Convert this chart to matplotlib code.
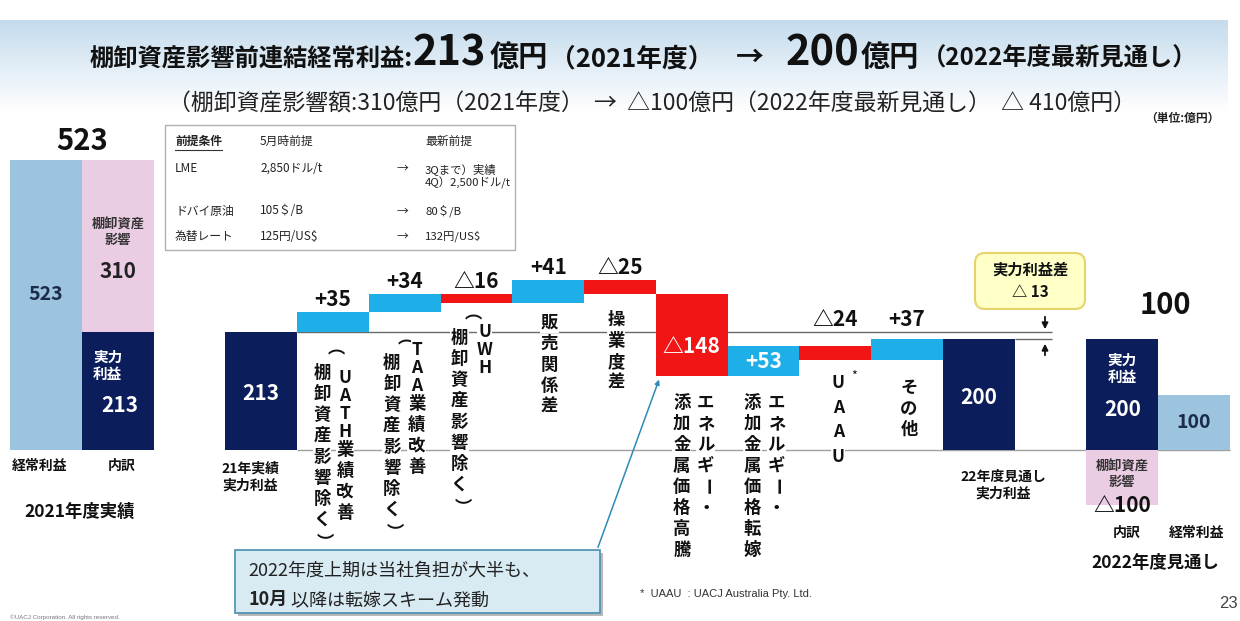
import numpy as np
import matplotlib.pyplot as plt
from matplotlib.patches import FancyBboxPatch, Rectangle

plt.rcParams['font.family'] = ['Noto Sans CJK JP', 'DejaVu Sans']

# ---- data (億円) ----
ordinary_2021 = 523
inventory_2021 = 310
real_2021 = 213
step_values = [35, 34, -16, 41, -25, -148, 53, -24, 37]
step_captions = [
    ['（棚卸資産影響除く）', 'UATH業績改善'],
    ['（棚卸資産影響除く）', 'TAA業績改善'],
    ['（棚卸資産影響除く）', 'UWH'],
    ['販売関係差'],
    ['操業度差'],
    ['添加金属価格高騰', 'エネルギー・'],
    ['添加金属価格転嫁', 'エネルギー・'],
    ['UAAU'],
    ['その他'],
]
real_2022 = 200
inventory_2022 = -100
ordinary_2022 = 100

cond_names = ['LME', 'ドバイ原油', '為替レート']
cond_may = ['2,850ドル/t', '105＄/B', '125円/US$']
cond_latest = ['3Qまで）実績\n4Q）2,500ドル/t', '80＄/B', '132円/US$']

LIGHT = '#9cc4df'
PINK = '#ebcde3'
NAVY = '#0b1e5b'
UP = '#1eafe9'
DOWN = '#f21515'

W, H = 1240, 621
PX_X = 71.75          # px per bar slot
PX_Y = 290 / 523      # px per 億円
X0, Y0 = 46, 450      # pixel of slot 0 / value 0


def fmt(v):
    return f'+{v}' if v > 0 else f'△{-v}'


fig = plt.figure(figsize=(W / 100, H / 100), dpi=100)
fig.patch.set_facecolor('white')

ax = fig.add_axes([0, 0, 1, 1])
ax.set_xlim(-X0 / PX_X, (W - X0) / PX_X)
ax.set_ylim((Y0 - H) / PX_Y, Y0 / PX_Y)
ax.axis('off')

# ---- bars ----
ax.bar(0, ordinary_2021, width=1, color=LIGHT, zorder=2)
ax.bar(1, real_2021, width=1, color=NAVY, zorder=2)
ax.bar(1, inventory_2021, bottom=real_2021, width=1, color=PINK, zorder=2)
ax.bar(3, real_2021, width=1, color=NAVY, zorder=2)

level = real_2021
for k, v in enumerate(step_values):
    i = 4 + k
    new = level + v
    ax.bar(i, abs(v), bottom=min(level, new), width=1,
           color=UP if v > 0 else DOWN, zorder=2)
    if abs(v) > 50:
        ymid = (min(level, new) + min(max(level, new), real_2021)) / 2
        if v < 0:
            ymid += 14
        ax.text(i, ymid, fmt(v), ha='center', va='center', color='white',
                fontsize=15, fontweight='bold', zorder=4)
    else:
        ax.annotate(fmt(v), (i, max(level, new, real_2021) if k > 5 else max(level, new)),
                    xytext=(0, 1.5), textcoords='offset points', ha='center', va='bottom',
                    fontsize=15, fontweight='bold', color='#111', zorder=4)
    level = new

ax.bar(13, real_2022, width=1, color=NAVY, zorder=2)
ax.bar(15, real_2022, width=1, color=NAVY, zorder=2)
ax.bar(15, inventory_2022, width=1, color=PINK, zorder=2)
ax.bar(16, ordinary_2022, width=1, color=LIGHT, zorder=2)

ax.hlines(0, 3.5, 16.5, color='#a0a0a0', lw=1, zorder=1)
ax.hlines(real_2021, 3.5, 14.02, color='#6a6a6a', lw=1, zorder=1)
ax.hlines(real_2022, 13.5, 14.02, color='#6a6a6a', lw=1, zorder=1)

# ---- overlay in pixel units ----
ov = fig.add_axes([0, 0, 1, 1])
ov.patch.set_visible(False)
grad = np.linspace(0, 1, 100)[:, None, None]
top_c = np.array([0.77, 0.86, 0.93])
band = top_c * (1 - grad) + np.ones(3) * grad
ov.imshow(band, extent=[0, 1228, 112, 20], origin='upper', aspect='auto', zorder=0)
ov.set_xlim(0, W)
ov.set_ylim(H, 0)
ov.axis('off')

fig.canvas.draw()
rend = fig.canvas.get_renderer()


def run_text(x, y, pieces, **kw):
    for s, size, weight in pieces:
        t = ov.text(x, y, s, fontsize=size, fontweight=weight, ha='left', va='baseline', **kw)
        x += t.get_window_extent(renderer=rend).width
    return x


# title, pieces placed at fixed left edges
title_pieces = [(90, '棚卸資産影響前連結経常利益:', 17.5), (413, f'{real_2021}', 30), (490, '億円', 21),
                (550, '（2021年度）', 18.5), (736, '→', 20), (786, f'{real_2022}', 30), (861, '億円', 21),
                (922, '（2022年度最新見通し）', 17.5)]
for x, s, size in title_pieces:
    ov.text(x, 66, s, fontsize=size, fontweight='bold', ha='left', va='baseline', color='#111')

ov.text(652, 104, f'（棚卸資産影響額:{inventory_2021}億円（2021年度）  →  △{-inventory_2022}億円'
        f'（2022年度最新見通し）  △ {inventory_2021 - inventory_2022}億円）',
        fontsize=16.5, ha='center', va='center', color='#222')
ov.text(1182, 118, '（単位:億円）', fontsize=8.5, fontweight='bold', ha='center', va='center', color='#222')

# assumptions table
ov.add_patch(Rectangle((165, 125), 350, 125, fc='white', ec='#b0b0b0', lw=1, zorder=3))
tkw = dict(fontsize=8.5, va='center', ha='left', color='#222', zorder=4)
ov.text(175, 141, '前提条件', fontweight='bold', **tkw)
ov.plot([175, 222], [150, 150], color='#333', lw=0.8, zorder=4)
ov.text(260, 141, '5月時前提', **tkw)
ov.text(425, 141, '最新前提', **tkw)
row_y = [168, 211, 236]
for name, may, late, y in zip(cond_names, cond_may, cond_latest, row_y):
    ov.text(175, y, name, **tkw)
    ov.text(260, y, may, **tkw)
    ov.text(397, y, '→', **tkw)
    ov.text(425, y + (8 if '\n' in late else 0), late, linespacing=1.2,
            **{**tkw, 'fontsize': 8.2})

# big totals
ov.text(82, 141, f'{ordinary_2021}', fontsize=21, fontweight='bold', ha='center', va='center', color='#111')
ov.text(1165, 305, f'{ordinary_2022}', fontsize=21, fontweight='bold', ha='center', va='center', color='#111')


def bx(i):
    return X0 + PX_X * i


lab = dict(fontweight='bold', ha='center', va='center')
ov.text(bx(0), 295, f'{ordinary_2021}', fontsize=14, color='#1a2b4c', **lab)
ov.text(bx(1), 232, '棚卸資産\n影響', fontsize=9.5, color='#333', linespacing=1.1, **lab)
ov.text(bx(1), 271, f'{inventory_2021}', fontsize=15, color='#222', **lab)
ov.text(bx(1) - 10, 365, '実力\n利益', fontsize=10.5, color='white', linespacing=1.1, **lab)
ov.text(bx(1) + 2, 405, f'{real_2021}', fontsize=15, color='white', **lab)
ov.text(bx(3), 393, f'{real_2021}', fontsize=15, color='white', **lab)
ov.text(bx(13), 397, f'{real_2022}', fontsize=15, color='white', **lab)
ov.text(bx(15), 368, '実力\n利益', fontsize=10.5, color='white', linespacing=1.1, **lab)
ov.text(bx(15), 410, f'{real_2022}', fontsize=15, color='white', **lab)
ov.text(bx(16), 423, f'{ordinary_2022}', fontsize=14, color='#1a2b4c', **lab)
ov.text(bx(15), 474, '棚卸資産\n影響', fontsize=9.5, color='#333', linespacing=1.1, **lab)
ov.text(bx(15), 506, f'△{-inventory_2022}', fontsize=15, color='#111', **lab)

# category labels
ov.text(40, 466, '経常利益', fontsize=10, color='#111', **lab)
ov.text(122, 466, '内訳', fontsize=10, color='#111', **lab)
ov.text(80, 512, '2021年度実績', fontsize=12.5, color='#111', **lab)
ov.text(250, 477, '21年実績\n実力利益', fontsize=10, color='#111', linespacing=1.2, **lab)
ov.text(1003, 485, '22年度見通し\n実力利益', fontsize=10, color='#111', linespacing=1.2, **lab)
ov.text(1127, 533, '内訳', fontsize=10, color='#111', **lab)
ov.text(1197, 533, '経常利益', fontsize=10, color='#111', **lab)
ov.text(1155, 563, '2022年度見通し', fontsize=12.5, color='#111', **lab)

# vertical captions under each step
col_layout = [
    [(-11, 357), (12, 378)],
    [(-13, 347), (12, 350)],
    [(-17, 322), (8, 332)],
    [(1, 323)],
    [(-4, 320)],
    [(-10, 403), (14, 403)],
    [(-11, 403), (13, 403)],
    [(3, 383)],
    [(2, 388)],
]


def vcol(x, y, s, adv=None):
    for ch in s:
        rot = -90 if ch in '（）ー' else 0
        ov.text(x, y, ch, fontsize=12.5, fontweight='bold', ha='center', va='center',
                rotation=rot, color='#111', zorder=3,
                bbox=dict(fc='white', ec='none', pad=0.5))
        if adv:
            y += adv
        elif ch in '（）':
            y += 16
        elif ch.isascii():
            y += 18
        else:
            y += 21


for k, (caps, lay) in enumerate(zip(step_captions, col_layout)):
    for cap, (dx, y) in zip(caps, lay):
        vcol(bx(4 + k) + dx, y, cap, adv=24.7 if cap == 'UAAU' else None)
ov.text(bx(11) + 19, 376, '*', fontsize=9, ha='center', va='center', color='#111')

# real-profit gap callout
ov.add_patch(FancyBboxPatch((980, 258), 100, 46, boxstyle='round,pad=5,rounding_size=10',
                            fc='#ffffc8', ec='#e6d36a', lw=1.5, zorder=3))
ov.text(1030, 270, '実力利益差', fontsize=11, fontweight='bold', ha='center', va='center', color='#111', zorder=4)
ov.text(1030, 292, f'△ {real_2021 - real_2022}', fontsize=11, fontweight='bold', ha='center', va='center',
        color='#111', zorder=4)
ov.annotate('', xy=(1045, 332), xytext=(1045, 314),
            arrowprops=dict(arrowstyle='-|>', color='#111', lw=1.3, mutation_scale=9))
ov.annotate('', xy=(1045, 341), xytext=(1045, 358),
            arrowprops=dict(arrowstyle='-|>', color='#111', lw=1.3, mutation_scale=9))

# bottom callout
ov.add_patch(Rectangle((238, 553), 365, 63, fc='#b9b9b9', ec='none', zorder=2))
ov.add_patch(Rectangle((235, 550), 365, 63, fc='#d8ebf3', ec='#4a8db3', lw=1.2, zorder=3))
ov.text(248, 571, '2022年度上期は当社負担が大半も、', fontsize=13, ha='left', va='center', color='#222', zorder=4)
run_text(248, 605, [('10月', 13, 'bold'), (' 以降は転嫁スキーム発動', 13, 'normal')], color='#222', zorder=4)
ov.annotate('', xy=(660, 377), xytext=(597, 550),
            arrowprops=dict(arrowstyle='-|>', color='#2f8ab5', lw=1.1, mutation_scale=7))

# footnotes
ov.text(640, 594, '*  UAAU  : UACJ Australia Pty. Ltd.', fontsize=8, family='Liberation Sans',
        ha='left', va='center', color='#333')
ov.text(1238, 603, '23', fontsize=12, family='Liberation Sans', ha='right', va='center', color='#444')
ov.text(10, 617, '©UACJ Corporation. All rights reserved.', fontsize=4.5, family='Liberation Sans',
        ha='left', va='center', color='#777')

fig.savefig('out.png', dpi=100)
